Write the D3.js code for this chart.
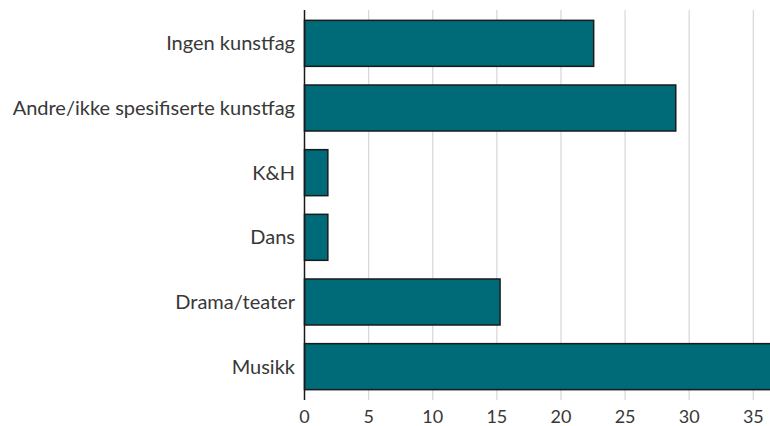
<!DOCTYPE html>
<html><head><meta charset="utf-8">
<script src="https://cdn.jsdelivr.net/npm/d3@7"></script>
<style>body{margin:0;background:#fff}svg{display:block}</style>
</head><body>
<svg id="c" width="770" height="426"></svg>
<script>
const categories = ["Ingen kunstfag","Andre/ikke spesifiserte kunstfag","K&H","Dans","Drama/teater","Musikk"];
const values = [22.55, 28.95, 1.82, 1.82, 15.25, 37];
const xTicks = [0,5,10,15,20,25,30,35];

const svg = d3.select("#c");
const x = d3.scaleLinear().domain([0, 36.3]).range([304.5, 770]);
const y = d3.scaleBand().domain(categories).range([10, 400]).paddingInner(0.2886).paddingOuter(0.16);
const font = "Lato, 'Open Sans', sans-serif";

svg.append("g").selectAll("line").data(xTicks.slice(1)).join("line")
  .attr("x1", d => x(d)).attr("x2", d => x(d)).attr("y1", 10).attr("y2", 400)
  .attr("stroke", "#d9d9d9").attr("stroke-width", 1.3);

svg.append("g").selectAll("rect").data(values).join("rect")
  .attr("x", x(0)).attr("y", (d,i) => y(categories[i]))
  .attr("width", d => x(d) - x(0)).attr("height", y.bandwidth())
  .attr("fill", "#006b78").attr("stroke", "#1a1a1a").attr("stroke-width", 1.5);

svg.append("line").attr("x1", x(0)).attr("x2", x(0)).attr("y1", 10).attr("y2", 400)
  .attr("stroke", "#1a1a1a").attr("stroke-width", 1.5);

svg.append("g").selectAll("text").data(categories).join("text")
  .attr("x", 295).attr("y", d => y(d) + y.bandwidth()/2).attr("dy", "0.35em")
  .attr("text-anchor", "end").attr("font-family", font).attr("font-size", 20)
  .attr("fill", "#383838").text(d => d);

svg.append("g").selectAll("text").data(xTicks).join("text")
  .attr("x", d => x(d)).attr("y", 422.5).attr("text-anchor", "middle")
  .attr("font-family", font).attr("font-size", 18).attr("fill", "#383838").text(d => d);
</script>
</body></html>
